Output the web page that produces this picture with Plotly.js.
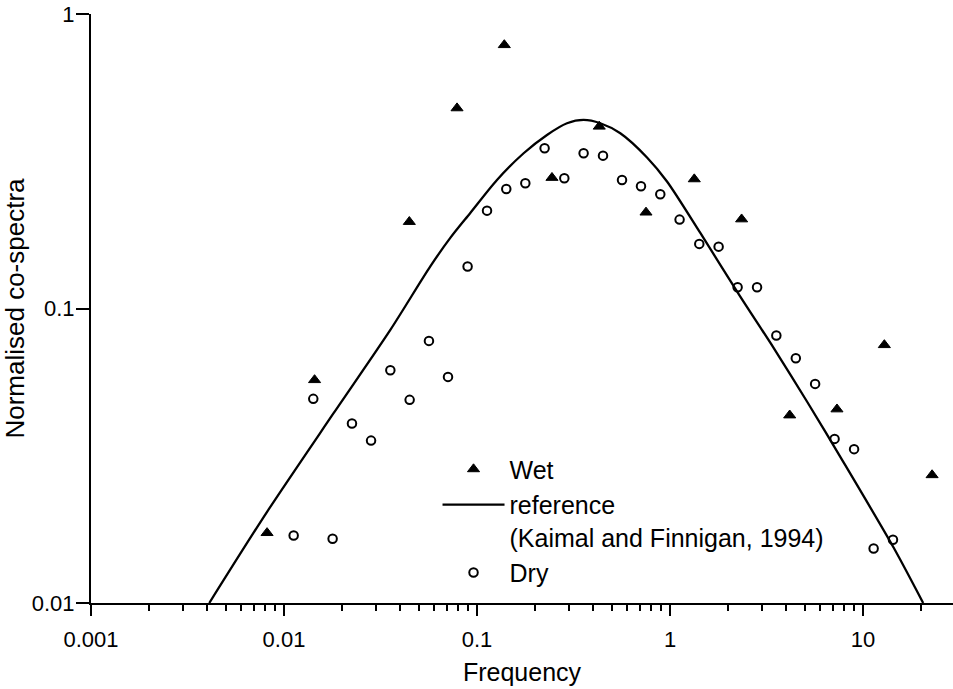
<!DOCTYPE html>
<html>
<head>
<meta charset="utf-8">
<script src="https://cdn.plot.ly/plotly-3.0.1.min.js"></script>
<style>html,body{margin:0;padding:0;background:#fff;}#chart{width:953px;height:689px;}</style>
</head>
<body>
<div id="chart"></div>
<script>
// Wet (filled triangles)
var wetFreq = [0.00817, 0.0144, 0.0446, 0.0788, 0.1385, 0.2446, 0.430, 0.751, 1.336, 2.35, 4.17, 7.33, 12.9, 22.8];
var wetCo   = [0.0173, 0.0572, 0.197, 0.479, 0.785, 0.278, 0.415, 0.212, 0.275, 0.201, 0.0434, 0.0455, 0.0752, 0.0272];

// Dry (open circles)
var dryFreq = [0.01122, 0.01418, 0.01786, 0.0225, 0.02825, 0.03556, 0.04477, 0.05637, 0.07075, 0.08938,
               0.1127, 0.1418, 0.178, 0.224, 0.2834, 0.3567, 0.4496, 0.5641, 0.7074, 0.8906,
               1.121, 1.418, 1.786, 2.24, 2.825, 3.556, 4.486, 5.648, 7.124, 8.99, 11.35, 14.3];
var dryCo   = [0.01695, 0.04934, 0.01652, 0.04068, 0.0356, 0.06173, 0.04895, 0.07762, 0.05858, 0.1388,
               0.2149, 0.2547, 0.2663, 0.35, 0.2769, 0.3366, 0.3304, 0.2732, 0.2602, 0.2443,
               0.2004, 0.1657, 0.1622, 0.1181, 0.1181, 0.081, 0.0678, 0.05546, 0.03608, 0.0333, 0.01531, 0.01639];

// Reference curve (Kaimal and Finnigan, 1994)
var refFreq = [0.0041, 0.00817, 0.01807, 0.03556, 0.05728, 0.0727, 0.0923, 0.1269, 0.1744, 0.2305, 0.2926, 0.3566,
               0.4354, 0.5527, 0.7601, 0.9649, 1.436, 2.313, 3.442, 5.126, 7.627, 14.4, 20.5];
var refCo   = [0.01, 0.0204, 0.0441, 0.0846, 0.139, 0.1737, 0.2111, 0.2732, 0.3366, 0.3884, 0.4256, 0.4367,
               0.4256, 0.3936, 0.3258, 0.2700, 0.1805, 0.1097, 0.0735, 0.04833, 0.03135, 0.01543, 0.01];

var seriesNames = ['Wet', 'reference<br>(Kaimal and Finnigan, 1994)', 'Dry'];
var xTitle = 'Frequency';
var yTitle = 'Normalised co-spectra';

var font = 'Arial, "Liberation Sans", Helvetica, sans-serif';

var traces = [
  {
    x: wetFreq, y: wetCo, name: seriesNames[0], type: 'scatter', mode: 'markers',
    marker: {symbol: 'triangle-up', size: 10.5, color: '#000', line: {color: '#000', width: 1}}
  },
  {
    x: refFreq, y: refCo, name: seriesNames[1], type: 'scatter', mode: 'lines',
    line: {color: '#000', width: 2.3, shape: 'spline', smoothing: 0.8}
  },
  {
    x: dryFreq, y: dryCo, name: seriesNames[2], type: 'scatter', mode: 'markers',
    marker: {symbol: 'circle-open', size: 8.5, color: '#000', line: {color: '#000', width: 2}}
  }
];

var layout = {
  width: 953, height: 689,
  margin: {l: 91, r: 0, t: 14, b: 86, pad: 0},
  paper_bgcolor: '#fff', plot_bgcolor: '#fff',
  font: {family: font, color: '#000', size: 22},
  showlegend: true,
  legend: {
    x: 0.402, y: 0.266, xanchor: 'left', yanchor: 'top',
    bgcolor: 'rgba(0,0,0,0)', borderwidth: 0,
    font: {family: font, size: 25, color: '#000'},
    valign: 'top', itemwidth: 62, tracegroupgap: 0
  },
  xaxis: {
    type: 'log', range: [-3, 1.4663], dtick: 1, tickformat: '~g',
    ticks: 'outside', ticklen: 11, tickwidth: 2, tickcolor: '#000',
    showline: true, linewidth: 2, linecolor: '#000', mirror: false,
    showgrid: false, zeroline: false,
    tickfont: {family: font, size: 22, color: '#000'},
    ticklabelstandoff: 5,
    minor: {dtick: 'D1', ticks: 'outside', ticklen: 6, tickwidth: 2, tickcolor: '#000', showgrid: false},
    title: {text: xTitle, font: {family: font, size: 25, color: '#000'}, standoff: 12}
  },
  yaxis: {
    type: 'log', range: [-2, 0], dtick: 1, tickformat: '~g',
    ticks: 'outside', ticklen: 13, tickwidth: 2, tickcolor: '#000',
    showline: true, linewidth: 2, linecolor: '#000',
    showgrid: false, zeroline: false,
    tickfont: {family: font, size: 22, color: '#000'},
    ticklabelstandoff: -3,
    title: {text: yTitle, font: {family: font, size: 26, color: '#000'}, standoff: 0}
  }
};

Plotly.newPlot('chart', traces, layout, {displayModeBar: false, staticPlot: true});
</script>
</body>
</html>
